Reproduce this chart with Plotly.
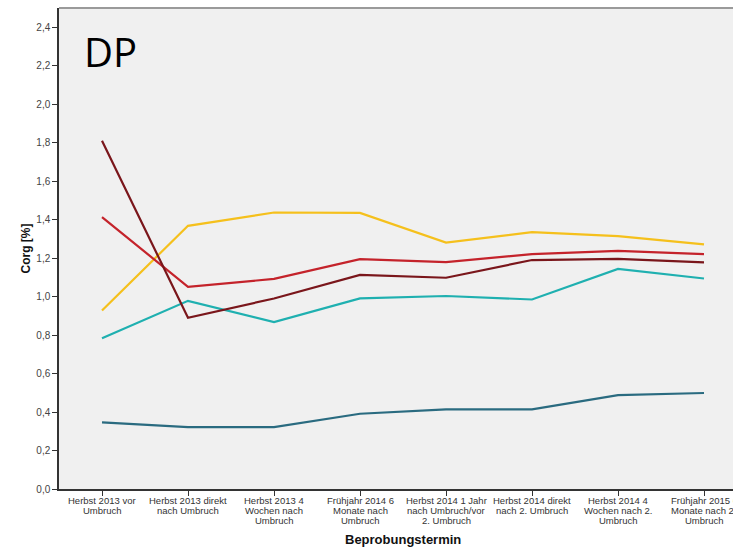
import plotly.graph_objects as go

categories = [
    "Herbst 2013 vor<br>Umbruch",
    "Herbst 2013 direkt<br>nach Umbruch",
    "Herbst 2013 4<br>Wochen nach<br>Umbruch",
    "Frühjahr 2014 6<br>Monate nach<br>Umbruch",
    "Herbst 2014 1 Jahr<br>nach Umbruch/vor<br>2. Umbruch",
    "Herbst 2014 direkt<br>nach 2. Umbruch",
    "Herbst 2014 4<br>Wochen nach 2.<br>Umbruch",
    "Frühjahr 2015 6<br>Monate nach 2.<br>Umbruch",
]
x_idx = list(range(len(categories)))

s_maroon = [1.81, 0.89, 0.99, 1.113, 1.098, 1.19, 1.196, 1.178]
s_red = [1.413, 1.051, 1.092, 1.195, 1.179, 1.221, 1.238, 1.221]
s_yellow = [0.928, 1.368, 1.437, 1.435, 1.281, 1.335, 1.314, 1.271]
s_teal = [0.784, 0.978, 0.868, 0.991, 1.003, 0.985, 1.144, 1.094]
s_darkteal = [0.346, 0.322, 0.322, 0.391, 0.414, 0.414, 0.488, 0.499]

y_ticks = [0.0, 0.2, 0.4, 0.6, 0.8, 1.0, 1.2, 1.4, 1.6, 1.8, 2.0, 2.2, 2.4]

series = [
    ("s1", s_darkteal, "#2a6b80"),
    ("s2", s_teal, "#1fb0b0"),
    ("s3", s_yellow, "#f5c01c"),
    ("s4", s_red, "#c4232b"),
    ("s5", s_maroon, "#7a161b"),
]

fig = go.Figure()
for name, vals, col in series:
    fig.add_trace(go.Scatter(x=x_idx, y=vals, mode="lines", name=name,
                             line=dict(color=col, width=2.2), showlegend=False))

W, H = 733, 547
L, T, B, R = 59, 8, 58, 0
plot_w = W - L - R
plot_h = H - T - B
axis_y = H - B


def py(pix):
    return 1 - (pix - T) / plot_h


annotations = [
    dict(text="DP", xref="paper", yref="paper",
         x=(82 - L) / plot_w, y=py(51),
         xanchor="left", yanchor="middle", showarrow=False,
         font=dict(family="Open Sans, sans-serif", size=40, color="black")),
    dict(text="<b>Corg [%]</b>", xref="paper", yref="paper",
         x=(25 - L) / plot_w, y=0.5, textangle=-90,
         xanchor="center", yanchor="middle", showarrow=False,
         font=dict(size=12, color="#111111")),
    dict(text="<b>Beprobungstermin</b>", xref="paper", yref="paper",
         x=(403 - L) / plot_w, y=py(539),
         xanchor="center", yanchor="middle", showarrow=False,
         font=dict(size=13, color="#111111")),
]

# category labels: one text per line, tighter line spacing than Plotly's default
for xi, cat in zip(x_idx, categories):
    for li, line in enumerate(cat.split("<br>")):
        annotations.append(dict(
            text=line, xref="x", yref="paper", x=xi, y=py(500.5 + 10 * li),
            xanchor="center", yanchor="middle", showarrow=False,
            font=dict(size=9.5, color="#333333")))

fig.update_layout(
    width=W, height=H,
    margin=dict(l=L, r=R, t=T, b=B, pad=0),
    paper_bgcolor="white",
    plot_bgcolor="#f0f0f0",
    separators=",.",
    font=dict(family="Liberation Sans, Arial, sans-serif", color="#333333"),
    xaxis=dict(
        range=[-0.5, -0.5 + plot_w / 86.0],
        tickmode="array", tickvals=x_idx, showticklabels=False,
        ticks="outside", ticklen=5, tickcolor="#333333", tickwidth=1,
        showline=True, linecolor="#333333", linewidth=1.5,
        showgrid=False, zeroline=False,
    ),
    yaxis=dict(
        range=[0, 2.5],
        tickmode="array", tickvals=y_ticks, tickformat=".1f",
        ticks="outside", ticklen=5, tickcolor="#333333", tickwidth=1,
        showline=True, linecolor="#333333", linewidth=1.5,
        showgrid=False, zeroline=False,
        tickfont=dict(size=10, color="#444444"),
    ),
    shapes=[dict(type="line", xref="paper", yref="paper", x0=0, x1=1, y0=1, y1=1,
                 line=dict(color="#9a9a9a", width=2))],
    annotations=annotations,
)

fig.write_html("out.html")
